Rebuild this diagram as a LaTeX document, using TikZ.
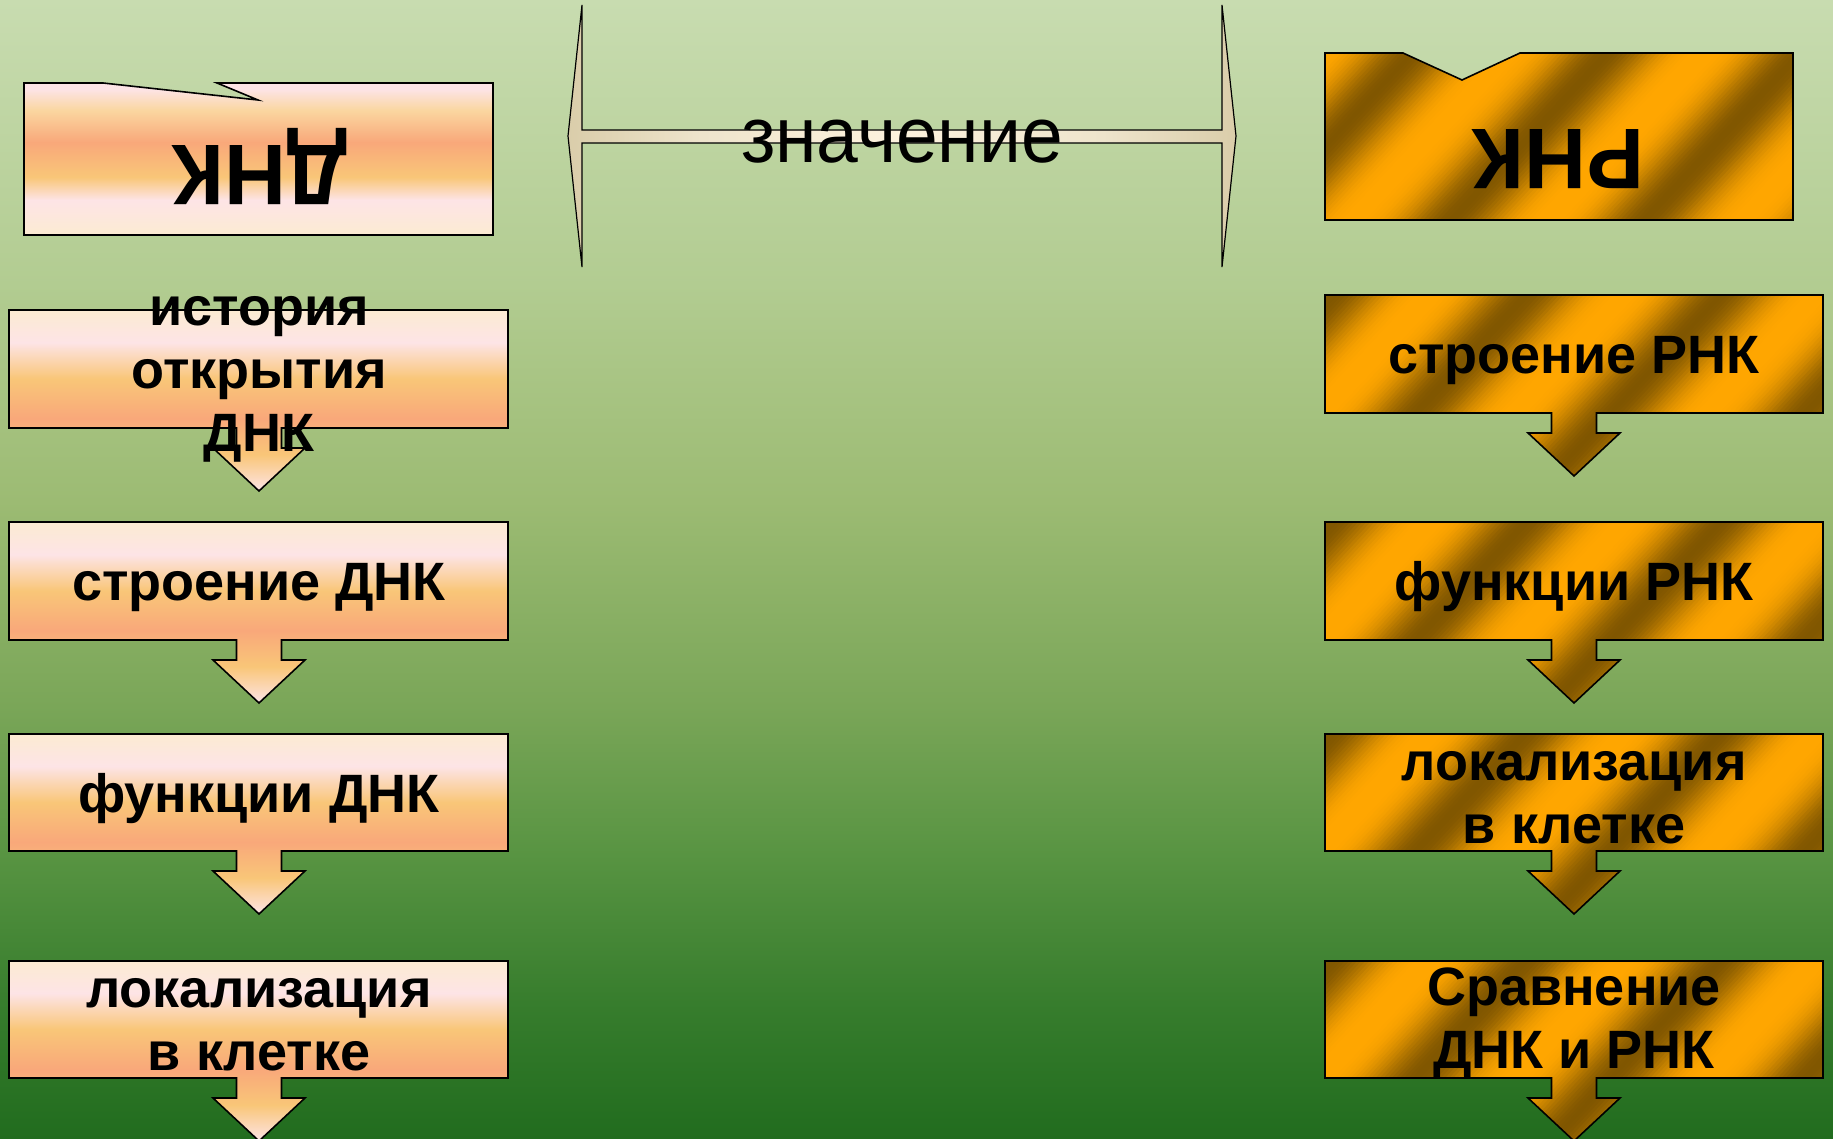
\documentclass[tikz,border=0pt]{standalone}
\usepackage{fontspec}
\setmainfont{Liberation Sans}
\usepackage{graphicx}
\definecolor{bg0}{RGB}{33,108,30}
\definecolor{bg1}{RGB}{55,125,45}
\definecolor{bg2}{RGB}{88,148,66}
\definecolor{bg3}{RGB}{122,166,88}
\definecolor{bg4}{RGB}{156,187,115}
\definecolor{bg5}{RGB}{178,204,145}
\definecolor{bg6}{RGB}{200,220,176}
\definecolor{dCream}{RGB}{252,235,210}
\definecolor{dPink}{RGB}{253,228,230}
\definecolor{dOrange}{RGB}{249,198,120}
\definecolor{dSalmon}{RGB}{249,168,122}
\definecolor{dLight}{RGB}{250,214,160}
\definecolor{gO}{RGB}{255,166,0}
\definecolor{gD}{RGB}{128,86,0}
\definecolor{beige}{RGB}{218,205,170}
\definecolor{creamc}{RGB}{253,242,222}
\definecolor{beigemid}{RGB}{238,228,204}
% TikZ maps the path's bounding box onto 25bp..75bp of a shading
\pgfdeclareverticalshading{bgsh}{100bp}{color(0bp)=(bg0); color(25bp)=(bg0); color(31bp)=(bg1); color(37.5bp)=(bg2); color(44bp)=(bg3); color(53bp)=(bg4); color(62.5bp)=(bg5); color(75bp)=(bg6); color(100bp)=(bg6)}
\pgfdeclareverticalshading{dnalist}{100bp}{color(0bp)=(dPink); color(25bp)=(dPink); color(35bp)=(dOrange); color(45bp)=(dSalmon); color(56bp)=(dOrange); color(66bp)=(dPink); color(75bp)=(dCream); color(100bp)=(dCream)}
\pgfdeclareverticalshading{dnahead}{100bp}{color(0bp)=(dCream); color(25bp)=(dCream); color(36.5bp)=(dPink); color(44bp)=(dOrange); color(55.5bp)=(dSalmon); color(66bp)=(dLight); color(73bp)=(dPink); color(100bp)=(dPink)}
\pgfdeclarehorizontalshading{beam}{100bp}{color(0bp)=(beige); color(25bp)=(beige); color(35bp)=(beigemid); color(50bp)=(creamc); color(65bp)=(beigemid); color(75bp)=(beige); color(100bp)=(beige)}
% callout box with down arrow: x0, x1, cx, top, bottom
\newcommand\cpath[5]{(#1,#4) -- (#2,#4) -- (#2,#5) -- ({#3+22.5},#5) -- ({#3+22.5},{#5+20}) -- ({#3+46},{#5+20}) -- (#3,{#5+63}) -- ({#3-46},{#5+20}) -- ({#3-22.5},{#5+20}) -- ({#3-22.5},#5) -- (#1,#5) -- cycle}
% diagonal gold stripes: cx, cy, phase
\newcommand\goldstripes[3]{%
  \begin{scope}[shift={(#1,#2)}, rotate=-43]
    \foreach \u in {-330,-327,...,330}{%
      \pgfmathsetmacro\gdv{max((1+cos(((\u+#3)/142)*360))/2,0)}%
      \pgfmathtruncatemacro\gdk{100*\gdv*sqrt(\gdv)}%
      \fill[gD!\gdk!gO] (\u,-330) rectangle ({\u+4},330);
    }
  \end{scope}}
\newcommand\fl{\rule{0pt}{42pt}}
\begin{document}
\begin{tikzpicture}[x=1pt,y=-1pt,
  outl/.style={draw=black, line width=1.6pt, line join=miter},
  listtext/.style={font=\bfseries\fontsize{54}{63}\selectfont, align=center, anchor=north, inner sep=0pt},
  headtext/.style={font=\bfseries\fontsize{86}{90}\selectfont, rotate=180, anchor=base, inner sep=0pt}]
\useasboundingbox (0,0) rectangle (1833,1139);
\shade[shading=bgsh] (0,0) rectangle (1833,1139);

% double arrow
\shade[shading=beam, draw=black, line width=1.2pt, line join=miter] (582,130) -- (582,5) -- (568,136) -- (582,267) -- (582,143) -- (1222,143) -- (1222,267) -- (1236,136) -- (1222,5) -- (1222,130) -- cycle;

% DNA header
\shade[shading=dnahead, outl] (24,83) -- (103,83) -- (258,100) -- (217,83) -- (493,83) -- (493,235) -- (24,235) -- cycle;

% DNA list
\shade[shading=dnalist, outl] \cpath{9}{508}{259}{310}{428};
\shade[shading=dnalist, outl] \cpath{9}{508}{259}{522}{640};
\shade[shading=dnalist, outl] \cpath{9}{508}{259}{734}{851};
\shade[shading=dnalist, outl] \cpath{9}{508}{259}{961}{1078};

% RNA header
\begin{scope}
\clip (1325,53) -- (1403,53) -- (1462,80) -- (1520,53) -- (1793,53) -- (1793,220) -- (1325,220) -- cycle;
\goldstripes{1559}{136}{23}
\end{scope}
\draw[outl] (1325,53) -- (1403,53) -- (1462,80) -- (1520,53) -- (1793,53) -- (1793,220) -- (1325,220) -- cycle;

% RNA list
\begin{scope}\clip \cpath{1325}{1823}{1574}{295}{413}; \goldstripes{1574}{354}{76}\end{scope}
\draw[outl] \cpath{1325}{1823}{1574}{295}{413};
\begin{scope}\clip \cpath{1325}{1823}{1574}{522}{640}; \goldstripes{1574}{581}{76}\end{scope}
\draw[outl] \cpath{1325}{1823}{1574}{522}{640};
\begin{scope}\clip \cpath{1325}{1823}{1574}{734}{851}; \goldstripes{1574}{792}{76}\end{scope}
\draw[outl] \cpath{1325}{1823}{1574}{734}{851};
\begin{scope}\clip \cpath{1325}{1823}{1574}{961}{1078}; \goldstripes{1574}{1019}{76}\end{scope}
\draw[outl] \cpath{1325}{1823}{1574}{961}{1078};

% texts
\node[headtext] (dnk) at (260,146) {ДНК};
\node[headtext] (rnk) at (1558,130) {РНК};
\node[font=\fontsize{79}{86}\selectfont, anchor=base, inner sep=0pt] (znach) at (902,163) {\scalebox{0.95}[1]{значение}};

\node[listtext] (l1) at (259,283) {\fl история\\открытия\\ДНК};
\node[listtext] (l2) at (259,558) {\fl строение ДНК};
\node[listtext] (l3) at (259,770) {\fl функции ДНК};
\node[listtext] (l4) at (259,965) {\fl локализация\\в клетке};

\node[listtext] (r1) at (1574,331) {\fl строение РНК};
\node[listtext] (r2) at (1574,558) {\fl функции РНК};
\node[listtext] (r3) at (1574,738) {\fl локализация\\в клетке};
\node[listtext] (r4) at (1574,963) {\fl Сравнение\\ДНК и РНК};
\end{tikzpicture}
\end{document}
